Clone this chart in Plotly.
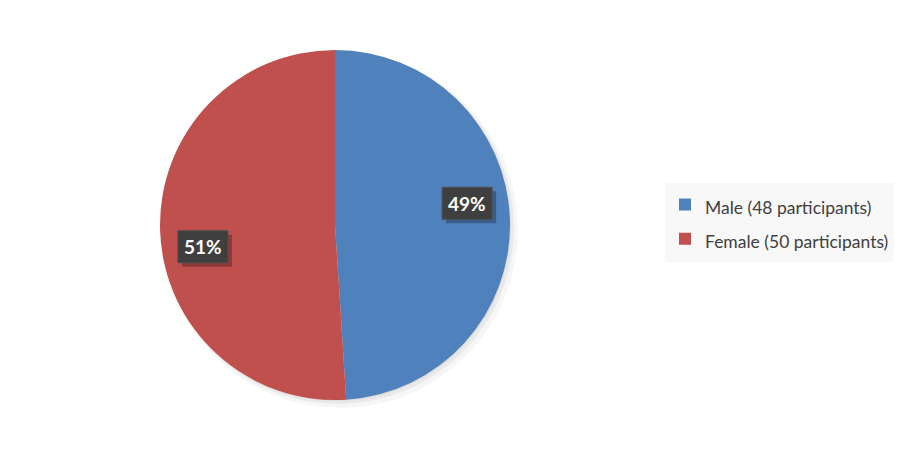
import math
import plotly.graph_objects as go

# data
labels = ["Male (48 participants)", "Female (50 participants)"]
counts = [48, 50]
pct_text = ["49%", "51%"]
colors = ["#4F81BD", "#C0504D"]

FONT = "Lato, 'Open Sans', sans-serif"
W, H = 900, 450

# pie placement in pixels
cx, cy, r = 335, 225, 175
dom_x = [(cx - r) / W, (cx + r) / W]
dom_y = [1 - (cy + r) / H, 1 - (cy - r) / H]

fig = go.Figure()

# soft shadow behind the pie
for off, alpha, grow in [(5, 0.035, 3), (3, 0.05, 1), (1, 0.06, 0)]:
    fig.add_trace(go.Pie(
        values=[sum(counts)], labels=["shadow"], marker=dict(colors=[f"rgba(0,0,0,{alpha})"]),
        domain=dict(x=[(cx - r - grow + off) / W, (cx + r + grow + off) / W],
                    y=[1 - (cy + r + grow + off) / H, 1 - (cy - r - grow + off) / H]),
        textinfo="none", hoverinfo="skip", showlegend=False, sort=False
    ))

# legend rows are spaced by the legend font; the visible text is smaller
legend_labels = [f"<span style='font-size:17.5px'>{l}</span>" for l in labels]

fig.add_trace(go.Pie(
    values=counts, labels=legend_labels, marker=dict(colors=colors, line=dict(width=0)),
    direction="clockwise", sort=False, rotation=0,
    domain=dict(x=dom_x, y=dom_y),
    textinfo="none", hoverinfo="label+percent", showlegend=True
))

# percentage labels in dark boxes, placed near each slice's middle angle
total = sum(counts)
start = 0.0
bw, bh = 50, 32
for c, t in zip(counts, pct_text):
    mid = (start + c / 2) / total * 2 * math.pi - math.radians(7.5)
    start += c
    px = cx + 0.765 * r * math.sin(mid)
    py = cy - 0.765 * r * math.cos(mid)
    # box shadow
    fig.add_shape(type="rect", xref="paper", yref="paper",
                  x0=(px - bw / 2 + 4) / W, x1=(px + bw / 2 + 4) / W,
                  y0=1 - (py + bh / 2 + 4) / H, y1=1 - (py - bh / 2 + 4) / H,
                  fillcolor="rgba(0,0,0,0.28)", line=dict(width=0))
    fig.add_shape(type="rect", xref="paper", yref="paper",
                  x0=(px - bw / 2) / W, x1=(px + bw / 2) / W,
                  y0=1 - (py + bh / 2) / H, y1=1 - (py - bh / 2) / H,
                  fillcolor="#3F3F3F", line=dict(width=1, color="#4E4E4E"))
    fig.add_annotation(x=px / W, y=1 - py / H, xref="paper", yref="paper",
                       xanchor="center", yanchor="middle",
                       text=f"<b>{t}</b>", showarrow=False,
                       font=dict(family=FONT, size=19, color="white"))

fig.update_layout(
    width=W, height=H, margin=dict(l=0, r=0, t=0, b=0),
    paper_bgcolor="white", plot_bgcolor="white",
    legend=dict(x=665 / W, y=0.5 + 3 / H, xanchor="left", yanchor="middle",
                bgcolor="#F8F8F8", borderwidth=0,
                font=dict(family=FONT, size=24, color="#404040"),
                itemwidth=30),
)

fig.write_html("out.html", config={"displayModeBar": False},
               post_script="document.body.style.margin='0';")
